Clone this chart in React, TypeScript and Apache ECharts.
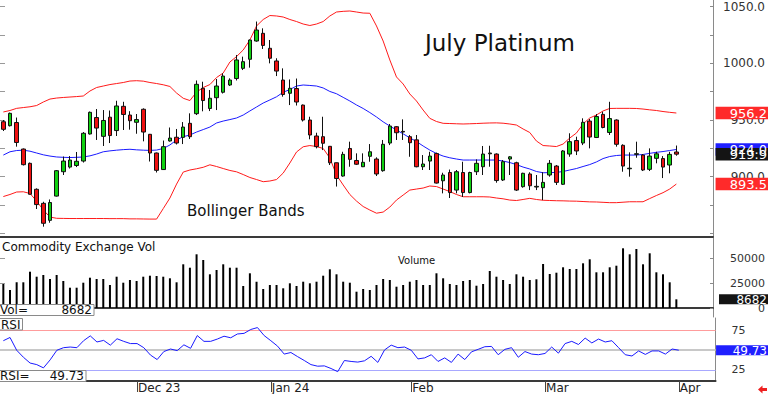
import React, { useEffect, useRef } from 'react';
import * as echarts from 'echarts';

// ---- trading days (categories) ----
const novDays = [2, 3, 6, 7, 8, 9, 10, 13, 14, 15, 16, 17, 20, 21, 22, 24, 27, 28, 29, 30];
const decDays = [1, 4, 5, 6, 7, 8, 11, 12, 13, 14, 15, 18, 19, 20, 21, 22, 26, 27, 28, 29];
const janDays = [2, 3, 4, 5, 8, 9, 10, 11, 12, 16, 17, 18, 19, 22, 23, 24, 25, 26, 29, 30, 31];
const febDays = [1, 2, 5, 6, 7, 8, 9, 12, 13, 14, 15, 16, 20, 21, 22, 23, 26, 27, 28, 29];
const marDays = [1, 4, 5, 6, 7, 8, 11, 12, 13, 14, 15, 18, 19, 20, 21, 22, 25, 26, 27, 28];
const aprDays = [1, 2, 3, 4, 5, 8];
const months = [
  { name: 'Nov', label: '', days: novDays },
  { name: 'Dec', label: 'Dec 23', days: decDays },
  { name: 'Jan', label: 'Jan 24', days: janDays },
  { name: 'Feb', label: 'Feb', days: febDays },
  { name: 'Mar', label: 'Mar', days: marDays },
  { name: 'Apr', label: 'Apr', days: aprDays },
];

// ---- price data (open, close, high, low) ----
const opens = [948.5, 945.0, 947.8, 924.4, 911.8, 888.9, 876.5, 861.5, 882.9, 904.4,
  908.5, 909.9, 913.8, 937.7, 952.2, 935.6, 952.5, 940.7, 962.1, 954.4,
  948.0, 959.5, 937.4, 920.9, 906.3, 931.5, 934.8, 934.7, 947.1, 955.6,
  978.0, 960.2, 969.7, 974.5, 980.9, 986.6, 995.6, 1003.6, 1019.7, 1026.5,
  1013.3, 1002.1, 985.3, 973.6, 977.8, 963.2, 950.0, 935.9, 935.3, 926.8,
  912.3, 900.6, 924.9, 914.3, 908.8, 918.0, 915.6, 905.3, 929.7, 944.1,
  940.0, 935.3, 932.5, 908.8, 913.8, 920.4, 896.4, 903.7, 888.2, 903.7,
  886.0, 904.4, 908.8, 920.2, 920.0, 897.1, 915.6, 912.3, 891.2, 902.4,
  890.9, 890.3, 901.5, 909.4, 893.3, 920.0, 931.9, 929.7, 949.1, 934.6,
  955.0, 939.0, 950.0, 927.7, 907.0, 919.7, 919.1, 906.5, 916.2, 916.0,
  910.3, 921.8];
const closes = [941.8, 955.9, 930.2, 910.6, 884.5, 875.4, 858.9, 877.2, 905.3, 913.8,
  914.7, 913.6, 938.3, 956.8, 942.9, 949.6, 936.3, 962.4, 954.9, 949.4,
  950.4, 939.4, 920.9, 905.6, 926.5, 934.1, 929.7, 943.8, 935.3, 981.5,
  967.2, 969.2, 980.0, 988.8, 985.3, 1003.0, 1001.5, 1020.6, 1029.4, 1015.8,
  1004.5, 993.2, 972.5, 978.0, 965.9, 950.0, 936.8, 926.5, 929.5, 912.3,
  898.4, 919.7, 915.3, 911.0, 912.7, 922.0, 902.4, 928.6, 944.7, 938.8,
  939.4, 930.0, 908.8, 911.2, 918.2, 894.4, 901.5, 886.0, 904.4, 886.0,
  903.7, 911.8, 920.0, 920.9, 896.6, 913.2, 917.5, 888.2, 903.0, 892.0,
  891.5, 895.0, 911.8, 895.0, 922.7, 930.9, 922.7, 948.0, 935.0, 953.1,
  943.4, 951.3, 928.6, 909.4, 907.5, 920.3, 905.9, 918.2, 920.2, 908.5,
  919.7, 919.9];
const highs = [950.0, 956.6, 952.2, 924.9, 912.5, 889.7, 877.9, 879.9, 905.9, 917.8,
  918.2, 921.8, 939.4, 957.5, 959.7, 958.8, 958.4, 967.0, 966.1, 957.8,
  955.3, 960.3, 937.7, 921.3, 931.9, 943.4, 942.1, 948.2, 955.9, 984.9,
  983.8, 976.5, 986.2, 991.2, 986.8, 1007.4, 1005.9, 1021.0, 1036.9, 1030.9,
  1020.6, 1004.5, 995.6, 985.8, 986.6, 963.7, 952.9, 938.8, 952.9, 927.1,
  912.5, 922.0, 930.9, 920.6, 920.6, 928.8, 917.1, 932.4, 946.5, 944.7,
  950.6, 936.8, 936.8, 919.1, 922.0, 921.3, 903.5, 906.3, 905.9, 913.2,
  904.4, 915.3, 927.1, 927.3, 920.6, 914.7, 918.2, 913.2, 903.5, 903.9,
  901.5, 903.9, 914.7, 910.3, 923.5, 938.3, 935.3, 951.5, 950.9, 955.3,
  957.3, 966.1, 950.6, 928.6, 921.5, 930.9, 920.0, 925.0, 922.0, 918.2,
  922.0, 927.5];
const lows = [940.3, 944.3, 926.5, 909.9, 884.3, 871.5, 855.9, 859.4, 882.5, 901.5,
  907.2, 908.5, 912.5, 937.2, 932.4, 927.1, 929.7, 935.9, 941.2, 941.5,
  937.9, 931.2, 913.4, 903.7, 905.9, 931.0, 928.4, 928.8, 933.3, 954.4,
  957.7, 957.9, 958.8, 973.4, 980.0, 984.9, 994.1, 996.2, 1019.1, 1012.7,
  1000.0, 988.8, 970.6, 963.2, 962.8, 948.7, 933.0, 925.0, 923.5, 910.3,
  891.3, 900.0, 908.8, 910.3, 908.5, 913.2, 900.6, 904.4, 927.9, 932.4,
  932.4, 917.6, 908.3, 905.9, 905.9, 894.0, 885.3, 881.2, 885.3, 882.1,
  885.3, 901.5, 901.5, 908.8, 894.7, 896.2, 901.5, 887.4, 890.3, 888.2,
  888.2, 879.4, 900.0, 892.7, 892.7, 917.6, 919.1, 927.9, 925.0, 934.1,
  942.7, 936.8, 926.5, 904.4, 900.0, 916.7, 905.0, 905.0, 911.8, 898.8,
  903.0, 918.5];

// ---- Bollinger bands ----
const upperBand = [957.1, 958.4, 960.3, 961.0, 961.7, 962.8, 965.9, 968.5, 969.4, 969.9,
  970.3, 970.7, 971.2, 975.6, 978.7, 980.0, 981.3, 982.2, 983.1, 984.4,
  984.7, 984.3, 983.1, 982.2, 981.1, 979.6, 973.8, 969.2, 967.2, 974.7,
  978.7, 981.3, 987.5, 991.5, 1001.2, 1006.0, 1011.8, 1020.6, 1033.0, 1038.7,
  1042.2, 1041.8, 1040.9, 1038.7, 1036.9, 1034.7, 1033.4, 1034.7, 1036.9, 1041.8,
  1045.3, 1045.9, 1046.2, 1045.3, 1044.4, 1044.2, 1033.0, 1019.7, 1003.0, 988.0,
  981.8, 973.0, 966.8, 958.8, 951.5, 948.7, 947.1, 946.9, 946.7, 946.5,
  946.7, 946.9, 947.2, 947.4, 947.5, 947.2, 946.5, 945.6, 942.1, 939.0,
  931.5, 927.5, 927.1, 926.6, 928.8, 934.1, 938.5, 946.5, 951.8, 954.4,
  958.0, 960.2, 960.3, 960.3, 960.3, 960.2, 959.7, 959.0, 958.4, 957.5,
  956.8, 956.2];
const midBand = [919.1, 922.0, 923.1, 923.4, 922.5, 920.9, 919.3, 918.2, 917.4, 917.1,
  916.9, 917.1, 917.4, 918.4, 920.0, 922.0, 922.8, 923.4, 923.9, 924.2,
  923.7, 923.4, 923.2, 923.5, 924.9, 928.0, 932.4, 935.3, 936.8, 939.4,
  941.6, 943.8, 947.4, 949.1, 950.4, 951.8, 954.4, 958.0, 961.5, 965.0,
  967.7, 970.5, 974.5, 976.9, 980.0, 980.9, 980.5, 980.0, 978.3, 975.2,
  973.2, 970.0, 966.8, 963.3, 960.2, 956.6, 952.7, 948.4, 944.7, 941.2,
  937.8, 934.3, 931.0, 927.1, 923.5, 920.5, 918.2, 916.7, 915.6, 914.7,
  914.7, 914.7, 914.7, 914.7, 914.7, 913.8, 912.5, 910.7, 908.5, 906.8,
  904.6, 903.5, 903.6, 903.8, 904.6, 905.9, 907.2, 909.0, 910.7, 913.0,
  916.0, 917.8, 918.7, 919.1, 919.1, 919.1, 919.6, 920.6, 921.5, 922.2,
  923.1, 924.0];
const lowerBand = [882.5, 884.3, 886.5, 886.7, 885.2, 878.5, 870.6, 864.4, 863.3, 863.2,
  863.1, 863.1, 863.1, 863.1, 863.1, 863.1, 863.0, 863.0, 863.0, 862.8,
  862.8, 862.7, 862.6, 862.6, 871.9, 881.2, 893.5, 904.1, 905.9, 907.0,
  908.3, 910.5, 909.0, 907.2, 905.5, 904.3, 901.9, 899.3, 897.5, 895.6,
  896.2, 897.5, 903.2, 912.1, 921.8, 926.4, 927.5, 926.6, 924.9, 916.5,
  901.5, 892.7, 884.3, 878.5, 873.7, 870.6, 867.8, 868.8, 873.2, 879.4,
  883.8, 888.2, 889.1, 890.0, 891.8, 891.3, 889.1, 886.9, 884.3, 882.3,
  882.3, 882.3, 882.3, 882.1, 881.2, 880.5, 879.4, 879.0, 879.9, 880.9,
  879.9, 879.2, 879.0, 878.8, 878.7, 878.5, 878.4, 878.1, 877.8, 877.7,
  877.4, 877.1, 877.1, 877.5, 877.9, 877.9, 877.9, 880.7, 883.4, 885.9,
  889.1, 893.5];

// ---- volume ----
const volumes = [24000, 18000, 25700, 25700, 36300, 31300, 33000, 29000, 33000, 27000,
  20300, 20300, 25300, 30300, 29000, 29000, 23000, 31300, 25300, 28000,
  27000, 31300, 32300, 32000, 31300, 29700, 25700, 43700, 40300, 53700,
  48000, 33700, 38000, 43700, 40300, 40300, 22000, 34700, 26300, 19000,
  23000, 23000, 19700, 24700, 22000, 26300, 24700, 26300, 32300, 38700,
  33700, 26300, 25300, 16300, 19000, 18000, 23000, 29000, 28000, 21300,
  23000, 26300, 28000, 23000, 23000, 34700, 29700, 24000, 23000, 27000,
  28000, 22300, 24000, 37000, 31300, 28000, 24000, 33700, 31300, 28000,
  28700, 44000, 34000, 35300, 40700, 39000, 39000, 44700, 48700, 35700,
  35700, 40700, 42300, 59700, 53700, 59000, 43700, 54700, 35700, 33700,
  25700, 8682];

// ---- RSI ----
const rsi = [61.7, 65.8, 49.6, 40.8, 33.5, 31.5, 27.4, 37.5, 49.6, 52.9,
  53.7, 52.9, 61.7, 67.8, 60.1, 62.1, 56.1, 64.2, 60.9, 58.1,
  58.1, 52.9, 43.6, 37.9, 48.0, 51.2, 49.2, 56.5, 52.1, 68.2,
  60.9, 60.9, 63.8, 67.4, 65.4, 70.2, 71.0, 75.9, 78.3, 68.2,
  61.7, 54.9, 44.8, 46.8, 41.6, 36.7, 31.5, 29.5, 29.9, 26.6,
  22.6, 36.7, 35.5, 34.7, 36.3, 42.0, 34.3, 50.0, 56.1, 52.9,
  53.7, 49.6, 38.7, 40.0, 44.0, 35.5, 40.0, 34.3, 44.8, 37.9,
  47.6, 50.8, 54.1, 54.5, 44.0, 50.8, 52.9, 40.8, 48.0, 44.8,
  44.0, 45.6, 53.7, 46.0, 58.1, 60.9, 56.9, 65.0, 58.9, 63.8,
  60.1, 61.7, 52.9, 44.0, 42.4, 48.8, 44.4, 48.8, 48.8, 44.8,
  51.2, 49.73];

// ---- axis ticks / labels ----
const priceLabels = [900, 950, 1000, 1050];
const priceTicks = [850, 875, 900, 925, 950, 975, 1000, 1025, 1050];
const volumeLabels = [0, 25000, 50000];
const rsiLabels = [25, 75];
const rsiTicks = [25, 50, 75];
const rsiLevels = [75, 50, 25];

const categories: string[] = [];
const monthStart: Record<number, string> = {};
months.forEach((m) => {
  m.days.forEach((d, k) => {
    if (k === 0 && m.label) monthStart[categories.length] = m.label;
    categories.push(`${m.name} ${d}`);
  });
});

const FONT = 'DejaVu Sans';
const GRID_LEFT = -3.4;
const GRID_WIDTH = 718.96;
const AXIS_X = GRID_LEFT + GRID_WIDTH;

export default function App() {
  const ref = useRef<HTMLDivElement>(null);
  useEffect(() => {
    document.body.style.margin = '0';
    const chart = echarts.init(ref.current!, null, { renderer: 'svg' });
    const candleData = opens.map((o, i) => [o, closes[i], lows[i], highs[i]]);
    const hiddenX = {
      type: 'category', data: categories, boundaryGap: true,
      axisLine: { show: true, lineStyle: { color: '#3a3a3a', width: 2 } },
      axisTick: { show: false }, axisLabel: { show: false }, splitLine: { show: false },
    };
    const rightLine = { show: true, lineStyle: { color: '#8a8a8a', width: 1 } };
    const option: any = {
      animation: false,
      backgroundColor: '#ffffff',
      grid: [
        { left: GRID_LEFT, top: 0, width: GRID_WIDTH, height: 237 },
        { left: GRID_LEFT, top: 238, width: GRID_WIDTH, height: 79 },
        { left: GRID_LEFT, top: 318, width: GRID_WIDTH, height: 65 },
      ],
      xAxis: [
        { ...hiddenX, gridIndex: 0 },
        { ...hiddenX, gridIndex: 1 },
        {
          ...hiddenX, gridIndex: 2,
          axisTick: {
            show: true, length: 11, alignWithLabel: true,
            interval: (idx: number) => monthStart[idx] !== undefined,
            lineStyle: { color: '#444', width: 1 },
          },
          axisLabel: {
            show: true, interval: (idx: number) => monthStart[idx] !== undefined,
            formatter: (_v: string, idx: number) => monthStart[idx] || '',
            align: 'left', margin: 1, padding: [0, 0, 0, 1],
            fontFamily: FONT, fontSize: 12, color: '#222',
          },
        },
      ],
      yAxis: [
        {
          gridIndex: 0, type: 'value', position: 'right', min: 846.8, max: 1055.9,
          axisLine: rightLine,
          axisTick: { show: true, inside: true, length: 3, customValues: priceTicks, lineStyle: { color: '#8a8a8a' } },
          axisLabel: {
            show: true, customValues: priceLabels, formatter: (v: number) => v.toFixed(1),
            align: 'right', margin: 52, fontFamily: FONT, fontSize: 12, color: '#333',
          },
          splitLine: { show: false },
        },
        {
          gridIndex: 0, type: 'value', position: 'left', min: 846.8, max: 1055.9,
          axisLine: { show: false },
          axisTick: { show: true, inside: true, length: 5, customValues: priceTicks, lineStyle: { color: '#999' } },
          axisLabel: { show: false }, splitLine: { show: false },
        },
        {
          gridIndex: 1, type: 'value', position: 'right', min: -9000, max: 70000,
          axisLine: rightLine,
          axisTick: { show: true, inside: true, length: 3, customValues: volumeLabels, lineStyle: { color: '#8a8a8a' } },
          axisLabel: {
            show: true, customValues: volumeLabels, formatter: (v: number) => String(v),
            align: 'right', margin: 52, fontFamily: FONT, fontSize: 11, color: '#333',
          },
          splitLine: { show: false },
        },
        {
          gridIndex: 1, type: 'value', position: 'left', min: -9000, max: 70000,
          axisLine: { show: false },
          axisTick: { show: true, inside: true, length: 5, customValues: [25000, 50000], lineStyle: { color: '#999' } },
          axisLabel: { show: false }, splitLine: { show: false },
        },
        {
          gridIndex: 2, type: 'value', position: 'right', min: 10.8, max: 90.4,
          axisLine: rightLine,
          axisTick: { show: true, inside: true, length: 3, customValues: rsiTicks, lineStyle: { color: '#8a8a8a' } },
          axisLabel: {
            show: true, customValues: rsiLabels, formatter: (v: number) => String(v),
            align: 'left', margin: 16, fontFamily: FONT, fontSize: 11, color: '#333',
          },
          splitLine: { show: false },
        },
      ],
      series: [
        { type: 'line', xAxisIndex: 0, yAxisIndex: 0, data: upperBand, symbol: 'none', lineStyle: { color: '#ff1a1a', width: 1 }, z: 2 },
        { type: 'line', xAxisIndex: 0, yAxisIndex: 0, data: midBand, symbol: 'none', lineStyle: { color: '#1a1aff', width: 1 }, z: 2 },
        { type: 'line', xAxisIndex: 0, yAxisIndex: 0, data: lowerBand, symbol: 'none', lineStyle: { color: '#ff1a1a', width: 1 }, z: 2 },
        {
          type: 'candlestick', xAxisIndex: 0, yAxisIndex: 0, data: candleData, barWidth: 4, z: 3,
          itemStyle: { color: '#10d010', color0: '#ee1010', borderColor: '#111', borderColor0: '#111', borderWidth: 1 },
        },
        {
          type: 'bar', xAxisIndex: 1, yAxisIndex: 2, data: volumes, barWidth: 2,
          itemStyle: { color: '#000' },
        },
        {
          type: 'line', xAxisIndex: 2, yAxisIndex: 4, data: rsi, symbol: 'none', z: 3,
          lineStyle: { color: '#1a1aff', width: 1 },
          markLine: {
            silent: true, symbol: ['none', 'none'], z: 1, label: { show: false },
            data: rsiLevels.map((v, k) => ({
              yAxis: v,
              lineStyle: k === 0 ? { color: '#ff9c9c', width: 1, type: 'solid' }
                : k === 1 ? { color: '#c8c8c8', width: 2, type: 'solid' }
                  : { color: '#a8a8ff', width: 1, type: 'solid' },
            })),
          },
        },
      ],
    };
    chart.setOption(option);

    const py = (v: number, axis: number) => chart.convertToPixel({ yAxisIndex: axis }, v) as number;
    const last = closes.length - 1;
    const txt = (text: string, x: number, y: number, size: number, fill: string, align = 'left') => ({
      type: 'text', z: 101,
      style: { text, x, y, fill, font: `${size}px ${FONT}`, fontSize: size, fontFamily: FONT, textAlign: align, align, textVerticalAlign: 'middle', verticalAlign: 'middle' },
    });
    const valueBox = (val: number, axis: number, bg: string, label: string, x0: number, h: number, size: number) => {
      const y = py(val, axis);
      return [
        { type: 'rect', z: 100, shape: { x: x0, y: y - h / 2, width: 768 - x0, height: h }, style: { fill: bg } },
        txt(label, 767, y + 0.5, size, '#ffffff', 'right'),
      ];
    };
    const boxRect = (x: number, y: number, w: number, h: number) => ({
      type: 'rect', z: 100, shape: { x, y, width: w, height: h }, style: { fill: '#fff', stroke: '#8a8a8a', lineWidth: 1 },
    });
    const graphic: any[] = [
      txt('July Platinum', 425, 43, 23, '#111'),
      txt('Bollinger Bands', 187, 211, 15, '#111'),
      txt('Commodity Exchange Vol', 2, 246.5, 12, '#111'),
      txt('Volume', 398, 260, 10, '#111'),
      ...valueBox(upperBand[last], 0, '#ff2a2a', upperBand[last].toFixed(1), AXIS_X, 12.5, 13),
      ...valueBox(midBand[last], 0, '#1f1fff', midBand[last].toFixed(1), AXIS_X, 12.5, 13),
      ...valueBox(closes[last], 0, '#141414', closes[last].toFixed(1), AXIS_X, 12.5, 13),
      ...valueBox(lowerBand[last], 0, '#ff2a2a', lowerBand[last].toFixed(1), AXIS_X, 12.5, 13),
      ...valueBox(volumes[last], 2, '#141414', String(volumes[last]), 719, 10, 12),
      ...valueBox(rsi[last], 4, '#1f1fff', rsi[last].toFixed(2), AXIS_X + 0.5, 10, 12),
      boxRect(-1, 304.5, 95, 11),
      txt('Vol=', 0, 310, 12, '#111'),
      txt(String(volumes[last]), 92, 310, 12, '#111', 'right'),
      boxRect(-1, 318.5, 23.5, 11.5),
      txt('RSI', 1, 324.5, 12, '#111'),
      boxRect(-1, 370.5, 87, 11),
      txt('RSI=', 0, 376, 12, '#111'),
      txt(rsi[last].toFixed(2), 84, 376, 12, '#111', 'right'),
      {
        type: 'polygon', z: 100,
        shape: { points: [[758, 389.5], [762.5, 385.5], [762.5, 388], [767, 388], [767, 391], [762.5, 391], [762.5, 393.5]] },
        style: { fill: '#ee2020' },
      },
    ];
    chart.setOption({ graphic });
    return () => chart.dispose();
  }, []);
  return <div ref={ref} style={{ position: 'absolute', left: 0, top: 0, width: 768, height: 394 }} />;
}
